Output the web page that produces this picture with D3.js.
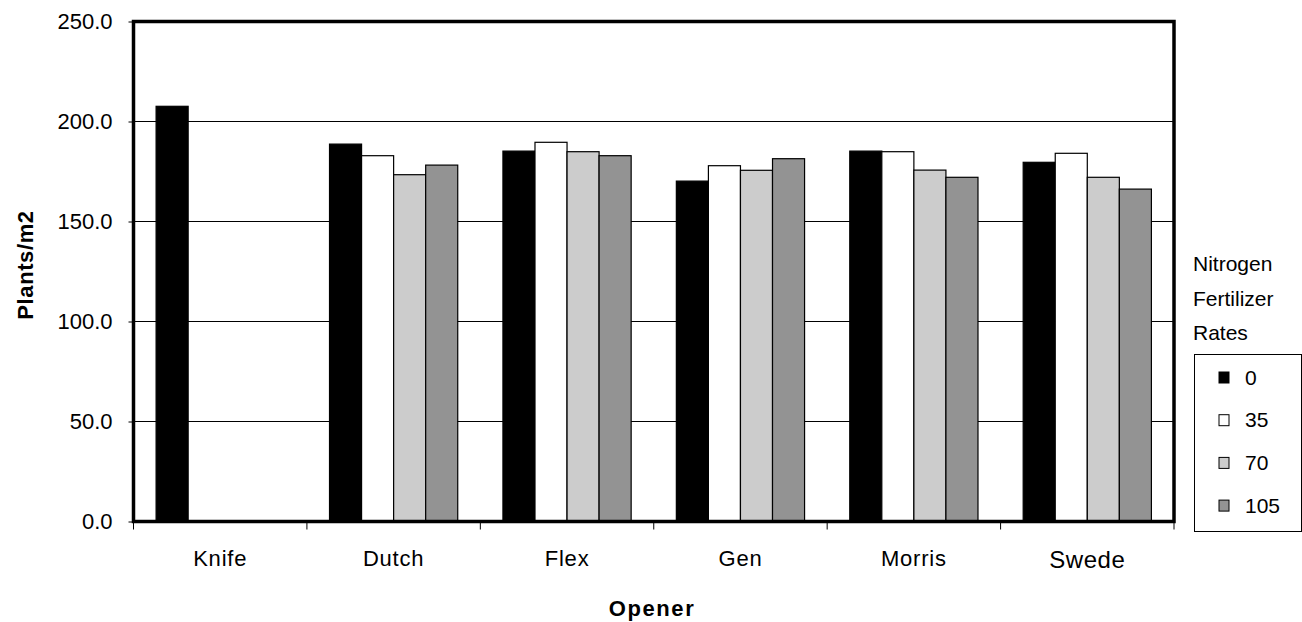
<!DOCTYPE html>
<html><head><meta charset="utf-8">
<script src="https://cdn.jsdelivr.net/npm/d3@7"></script>
<style>body{margin:0;background:#fff}svg{display:block;font-family:"Liberation Sans",Arial,sans-serif}</style>
</head><body><svg id="c" width="1302" height="622"></svg>
<script>
const categories = ["Knife","Dutch","Flex","Gen","Morris","Swede"];
const seriesNames = ["0","35","70","105"];
const rate0   = [207.6, 188.7, 185.2, 170.2, 185.2, 179.6];
const rate35  = [null, 182.9, 189.6, 177.9, 184.9, 184.1];
const rate70  = [null, 173.4, 184.9, 175.6, 175.7, 172.1];
const rate105 = [null, 178.2, 182.9, 181.4, 172.1, 166.2];
const yTicks = [0, 50, 100, 150, 200, 250];
const colors = ["#000000","#ffffff","#cccccc","#939393"];
const seriesValues = [rate0, rate35, rate70, rate105];

const svg = d3.select("#c");
const L = 133.5, R = 1174, T = 21.5, B = 521.5;
const x = d3.scaleBand().domain(categories).range([L, R]).paddingInner(0).paddingOuter(0);
const y = d3.scaleLinear().domain([0, 250]).range([B, T]);
const inner = d3.scaleBand().domain(seriesNames).range([0, x.bandwidth()]).paddingOuter(0.705).paddingInner(0);

// gridlines
svg.append("g").selectAll("line").data(yTicks.filter(t => t > 0 && t < 250)).join("line")
  .attr("x1", L).attr("x2", R).attr("y1", d => y(d)).attr("y2", d => y(d))
  .attr("stroke", "#000").attr("stroke-width", 1).attr("shape-rendering", "crispEdges");

// bars
const data = [];
categories.forEach((c, i) => seriesNames.forEach((s, j) => {
  const v = seriesValues[j][i];
  if (v != null) data.push({c, s, v, j});
}));
svg.append("g").selectAll("rect").data(data).join("rect")
  .attr("x", d => x(d.c) + inner(d.s))
  .attr("width", inner.bandwidth())
  .attr("y", d => y(d.v))
  .attr("height", d => B - y(d.v))
  .attr("fill", d => colors[d.j])
  .attr("stroke", "#000").attr("stroke-width", 1.2);

// y axis
const yAxis = d3.axisLeft(y).tickValues(yTicks).tickFormat(d3.format(".1f")).tickSize(5).tickPadding(16);
const gy = svg.append("g").attr("transform", `translate(${L},0)`).call(yAxis);
gy.select(".domain").remove();
gy.selectAll("text").attr("font-size", 22).attr("fill", "#000").attr("font-family", "Liberation Sans, Arial, sans-serif");
gy.selectAll("line").attr("stroke", "#000");

// x axis
const xAxis = d3.axisBottom(x).tickSize(0).tickPadding(29);
const gx = svg.append("g").attr("transform", `translate(0,${B})`).call(xAxis);
gx.select(".domain").remove();
gx.selectAll("text").attr("font-size", d => d === "Swede" ? 24 : 22).attr("letter-spacing", d => d === "Swede" ? 0.5 : 0.8)
  .attr("fill", "#000").attr("font-family", "Liberation Sans, Arial, sans-serif");
// category boundary ticks
const bounds = categories.map(c => x(c)).concat([R]);
svg.append("g").selectAll("line").data(bounds).join("line")
  .attr("x1", d => d).attr("x2", d => d).attr("y1", B).attr("y2", B + 8)
  .attr("stroke", "#000").attr("stroke-width", 1);

// frame
svg.append("rect").attr("x", L).attr("y", T).attr("width", R - L).attr("height", B - T)
  .attr("fill", "none").attr("stroke", "#000").attr("stroke-width", 3.5);

// axis titles
svg.append("text").attr("x", 652).attr("y", 616).attr("text-anchor", "middle")
  .attr("font-size", 22).attr("font-weight", "bold").attr("letter-spacing", 1.6).text("Opener");
svg.append("text").attr("transform", "translate(33,265) rotate(-90)").attr("text-anchor", "middle")
  .attr("font-size", 22).attr("font-weight", "bold").attr("letter-spacing", 0.6).text("Plants/m2");

// legend title
const titleLines = ["Nitrogen", "Fertilizer", "Rates"];
svg.append("g").selectAll("text").data(titleLines).join("text")
  .attr("x", 1193).attr("y", (d, i) => 271 + i * 34.5).attr("font-size", 21).text(d => d);

// legend box
svg.append("rect").attr("x", 1194.5).attr("y", 354.5).attr("width", 107).attr("height", 177)
  .attr("fill", "#fff").attr("stroke", "#000").attr("stroke-width", 1);
const lg = svg.append("g").selectAll("g").data(seriesNames).join("g")
  .attr("transform", (d, i) => `translate(1219,${377.5 + i * 42.7})`);
lg.append("rect").attr("x", 0).attr("y", -5.5).attr("width", 10).attr("height", 11)
  .attr("fill", (d, i) => colors[i]).attr("stroke", "#000").attr("stroke-width", 1);
lg.append("text").attr("x", 26).attr("y", 7).attr("font-size", 21).text(d => d);
</script></body></html>
